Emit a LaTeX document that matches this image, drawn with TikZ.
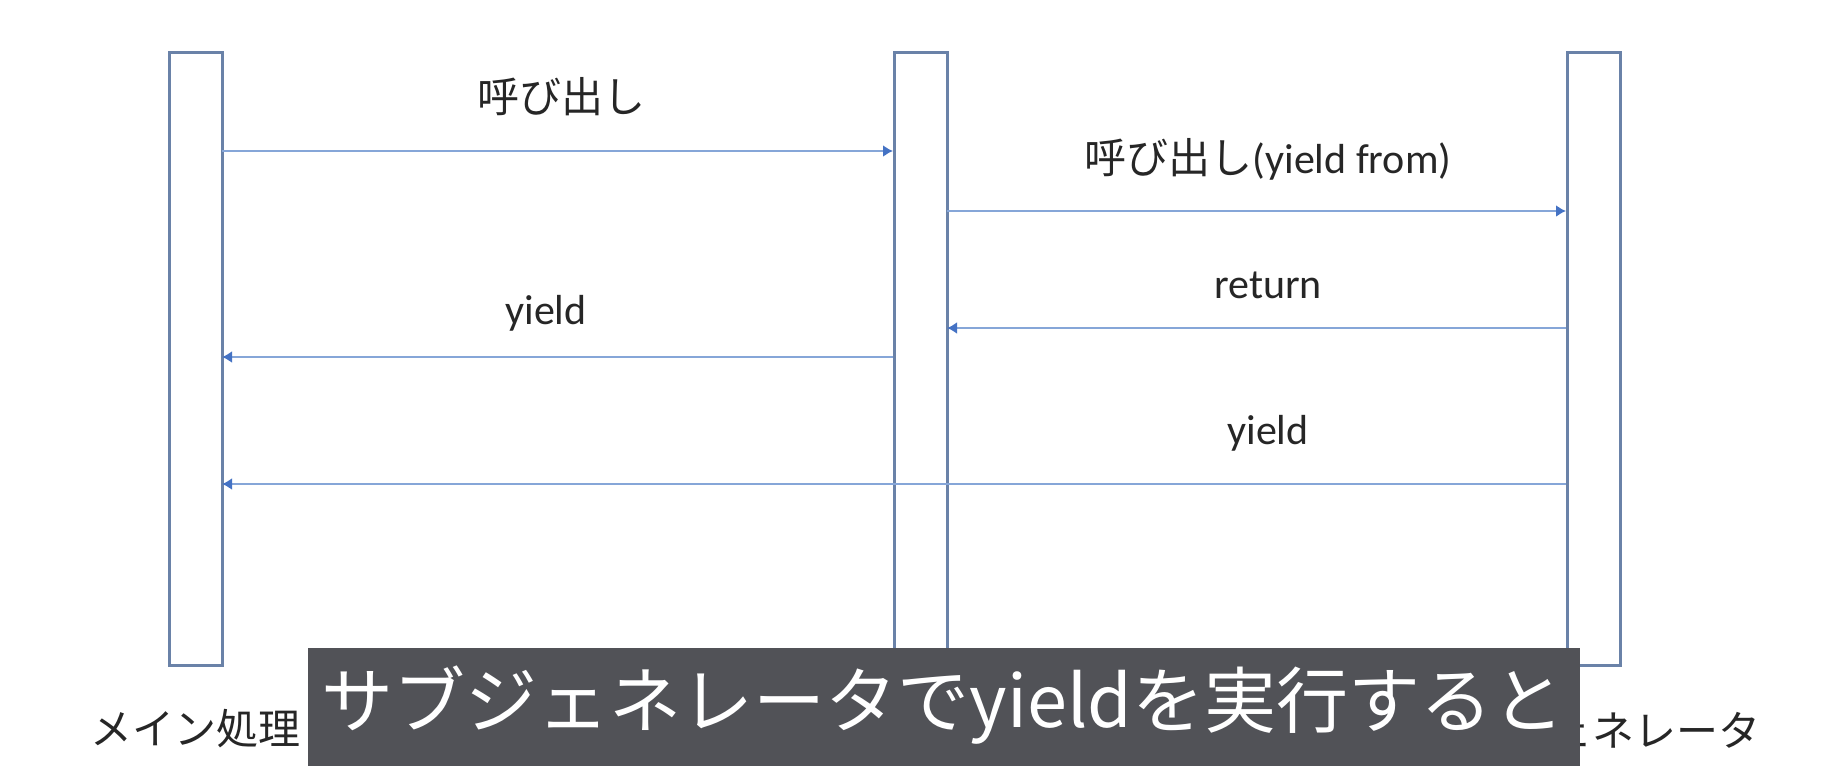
\documentclass[tikz,border=0pt]{standalone}
\usepackage{fontspec}
\setmainfont{Carlito}
\newfontfamily\cjk{Noto Sans CJK JP}
\usetikzlibrary{arrows.meta}
\definecolor{boxline}{HTML}{6A82A8}
\definecolor{arrline}{HTML}{86A6D8}
\definecolor{arrhead}{HTML}{4472C4}
\definecolor{subbg}{HTML}{515257}
\begin{document}
\begin{tikzpicture}[x=0.5pt,y=-0.5pt,
  lifebox/.style={draw=boxline,line width=1.4pt,fill=white,minimum width=26.5pt,minimum height=306.5pt,inner sep=0pt,anchor=north west},
  msg/.style={draw=arrline,line width=1pt,-{Latex[length=5pt,width=6pt,color=arrhead]}},
  lbl/.style={font=\fontsize{21}{24}\selectfont,text=black!85,inner sep=0pt},
  partlbl/.style={font=\cjk\fontsize{21}{24}\selectfont,text=black!85,inner sep=0pt},
  subbox/.style={fill=subbg,draw=none,inner sep=0pt,anchor=north west,minimum width=636pt,minimum height=59pt},
  subtxt/.style={font=\cjk\fontsize{36}{40}\selectfont,text=white,inner sep=0pt}]
\useasboundingbox[fill=white] (0,0) rectangle (1824,766);
% lifelines
\node[lifebox] (m) at (168,51) {};
\node[lifebox] (g) at (893,51) {};
\node[lifebox] (s) at (1566,51) {};
% anchor coordinates
\coordinate (m1) at (222,151);
\coordinate (g1) at (893,151);
\coordinate (g2) at (947,211);
\coordinate (s2) at (1566,211);
\coordinate (s3) at (1566,328);
\coordinate (g3) at (947,328);
\coordinate (g4) at (893,357);
\coordinate (m4) at (222,357);
\coordinate (s5) at (1566,484);
\coordinate (m5) at (222,484);
% messages
\draw[msg] (m1) -- (g1);
\draw[msg] (g2) -- (s2);
\draw[msg] (s3) -- (g3);
\draw[msg] (g4) -- (m4);
\draw[msg] (s5) -- (m5);
% labels
\node[partlbl] (l1) at (561,97) {呼び出し};
\node[lbl] (l2) at (1268,159) {{\cjk 呼び出し}(yield from)};
\node[lbl] (l3) at (1268,285) {return};
\node[lbl] (l4) at (546,313) {yield};
\node[lbl] (l5) at (1268,433) {yield};
% participant names
\node[partlbl] (n1) at (195,729) {メイン処理};
\node[partlbl] (n2) at (920,729) {ジェネレータ};
\node[partlbl] (n3) at (1592,729) {サブジェネレータ};
% subtitle overlay
\node[subbox] (sb) at (308,648) {};
\node[subtxt] (st) at (943,705) {サブジェネレータでyieldを実行すると};
\end{tikzpicture}
\end{document}
